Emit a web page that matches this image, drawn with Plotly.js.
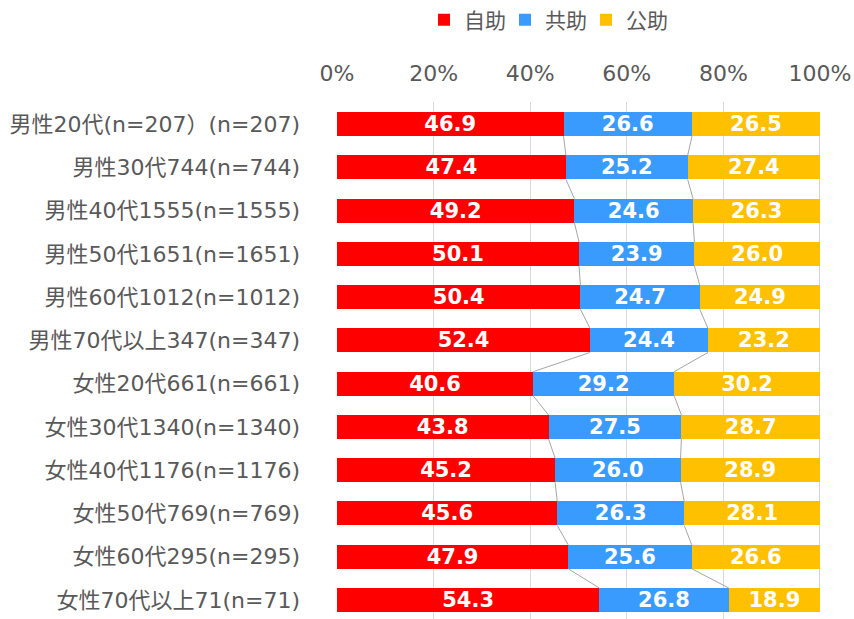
<!DOCTYPE html>
<html>
<head>
<meta charset="utf-8">
<script src="https://cdn.plot.ly/plotly-3.0.1.min.js"></script>
<style>html,body{margin:0;padding:0;background:#fff;}#chart{width:854px;height:619px;}</style>
</head>
<body>
<div id="chart"></div>
<script>
const categories = [
  "男性20代(n=207）(n=207)",
  "男性30代744(n=744)",
  "男性40代1555(n=1555)",
  "男性50代1651(n=1651)",
  "男性60代1012(n=1012)",
  "男性70代以上347(n=347)",
  "女性20代661(n=661)",
  "女性30代1340(n=1340)",
  "女性40代1176(n=1176)",
  "女性50代769(n=769)",
  "女性60代295(n=295)",
  "女性70代以上71(n=71)"
];
const seriesNames = ["自助", "共助", "公助"];
const jijo  = [46.9, 47.4, 49.2, 50.1, 50.4, 52.4, 40.6, 43.8, 45.2, 45.6, 47.9, 54.3];
const kyojo = [26.6, 25.2, 24.6, 23.9, 24.7, 24.4, 29.2, 27.5, 26.0, 26.3, 25.6, 26.8];
const kojo  = [26.5, 27.4, 26.3, 26.0, 24.9, 23.2, 30.2, 28.7, 28.9, 28.1, 26.6, 18.9];
const xTickVals = [0, 20, 40, 60, 80, 100];
const xTickText = ["0%", "20%", "40%", "60%", "80%", "100%"];

const colors = ["#FF0000", "#3A9BFF", "#FFC000"];
const FONT = "DejaVu Sans, 'Noto Sans CJK JP', sans-serif";
const BARW = 0.555;
const series = [jijo, kyojo, kojo];
const idx = categories.map((_, i) => i);

const traces = series.map((vals, k) => ({
  type: 'bar',
  orientation: 'h',
  name: seriesNames[k],
  y: idx,
  x: vals,
  width: BARW,
  marker: {color: colors[k], line: {width: 0}},
  text: vals.map(v => v.toFixed(1)),
  textposition: 'inside',
  insidetextanchor: 'middle',
  textangle: 0,
  constraintext: 'none',
  textfont: {family: FONT, size: 21, color: '#FFFFFF', weight: 'bold'},
  hoverinfo: 'none'
}));

// series lines connecting stacked segment ends (normalized cumulative)
const totals = idx.map(i => jijo[i] + kyojo[i] + kojo[i]);
for (let k = 0; k < 3; k++) {
  const cum = idx.map(i => {
    let s = 0;
    for (let j = 0; j <= k; j++) s += series[j][i];
    return s / totals[i] * 100;
  });
  const xs = [], ys = [];
  for (let i = 0; i < idx.length - 1; i++) {
    xs.push(cum[i], cum[i + 1], null);
    ys.push(i + BARW / 2, i + 1 - BARW / 2, null);
  }
  traces.push({
    type: 'scatter', mode: 'lines', x: xs, y: ys,
    line: {color: '#A6A6A6', width: 1},
    showlegend: false, hoverinfo: 'skip', connectgaps: false
  });
}

const layout = {
  width: 854, height: 619,
  margin: {l: 337, r: 34, t: 102, b: 0, pad: 0},
  paper_bgcolor: '#FFFFFF', plot_bgcolor: '#FFFFFF',
  barmode: 'stack',
  barnorm: 'percent',
  font: {family: FONT, color: '#595959'},
  showlegend: true,
  legend: {
    orientation: 'h', xref: 'container', yref: 'container',
    x: 0.4965, y: 1 - 20 / 619, xanchor: 'left', yanchor: 'middle',
    entrywidth: 36,
    font: {family: FONT, size: 21, color: '#595959'},
    traceorder: 'normal', bgcolor: 'rgba(0,0,0,0)'
  },
  xaxis: {
    side: 'top', range: [0, 100],
    tickvals: xTickVals, ticktext: xTickText,
    showgrid: true, gridcolor: '#D9D9D9', gridwidth: 1,
    zeroline: false, showline: false, ticks: '',
    tickfont: {family: FONT, size: 22, color: '#595959'},
    ticklabelstandoff: 16, fixedrange: true
  },
  yaxis: {
    range: [11.44, -0.513],
    tickvals: idx, ticktext: categories,
    showgrid: false, zeroline: false, showline: false, ticks: '',
    tickfont: {family: FONT, size: 22, color: '#595959'},
    ticklabelstandoff: 36, fixedrange: true
  }
};

Plotly.newPlot('chart', traces, layout, {displayModeBar: false, staticPlot: true});
</script>
</body>
</html>
